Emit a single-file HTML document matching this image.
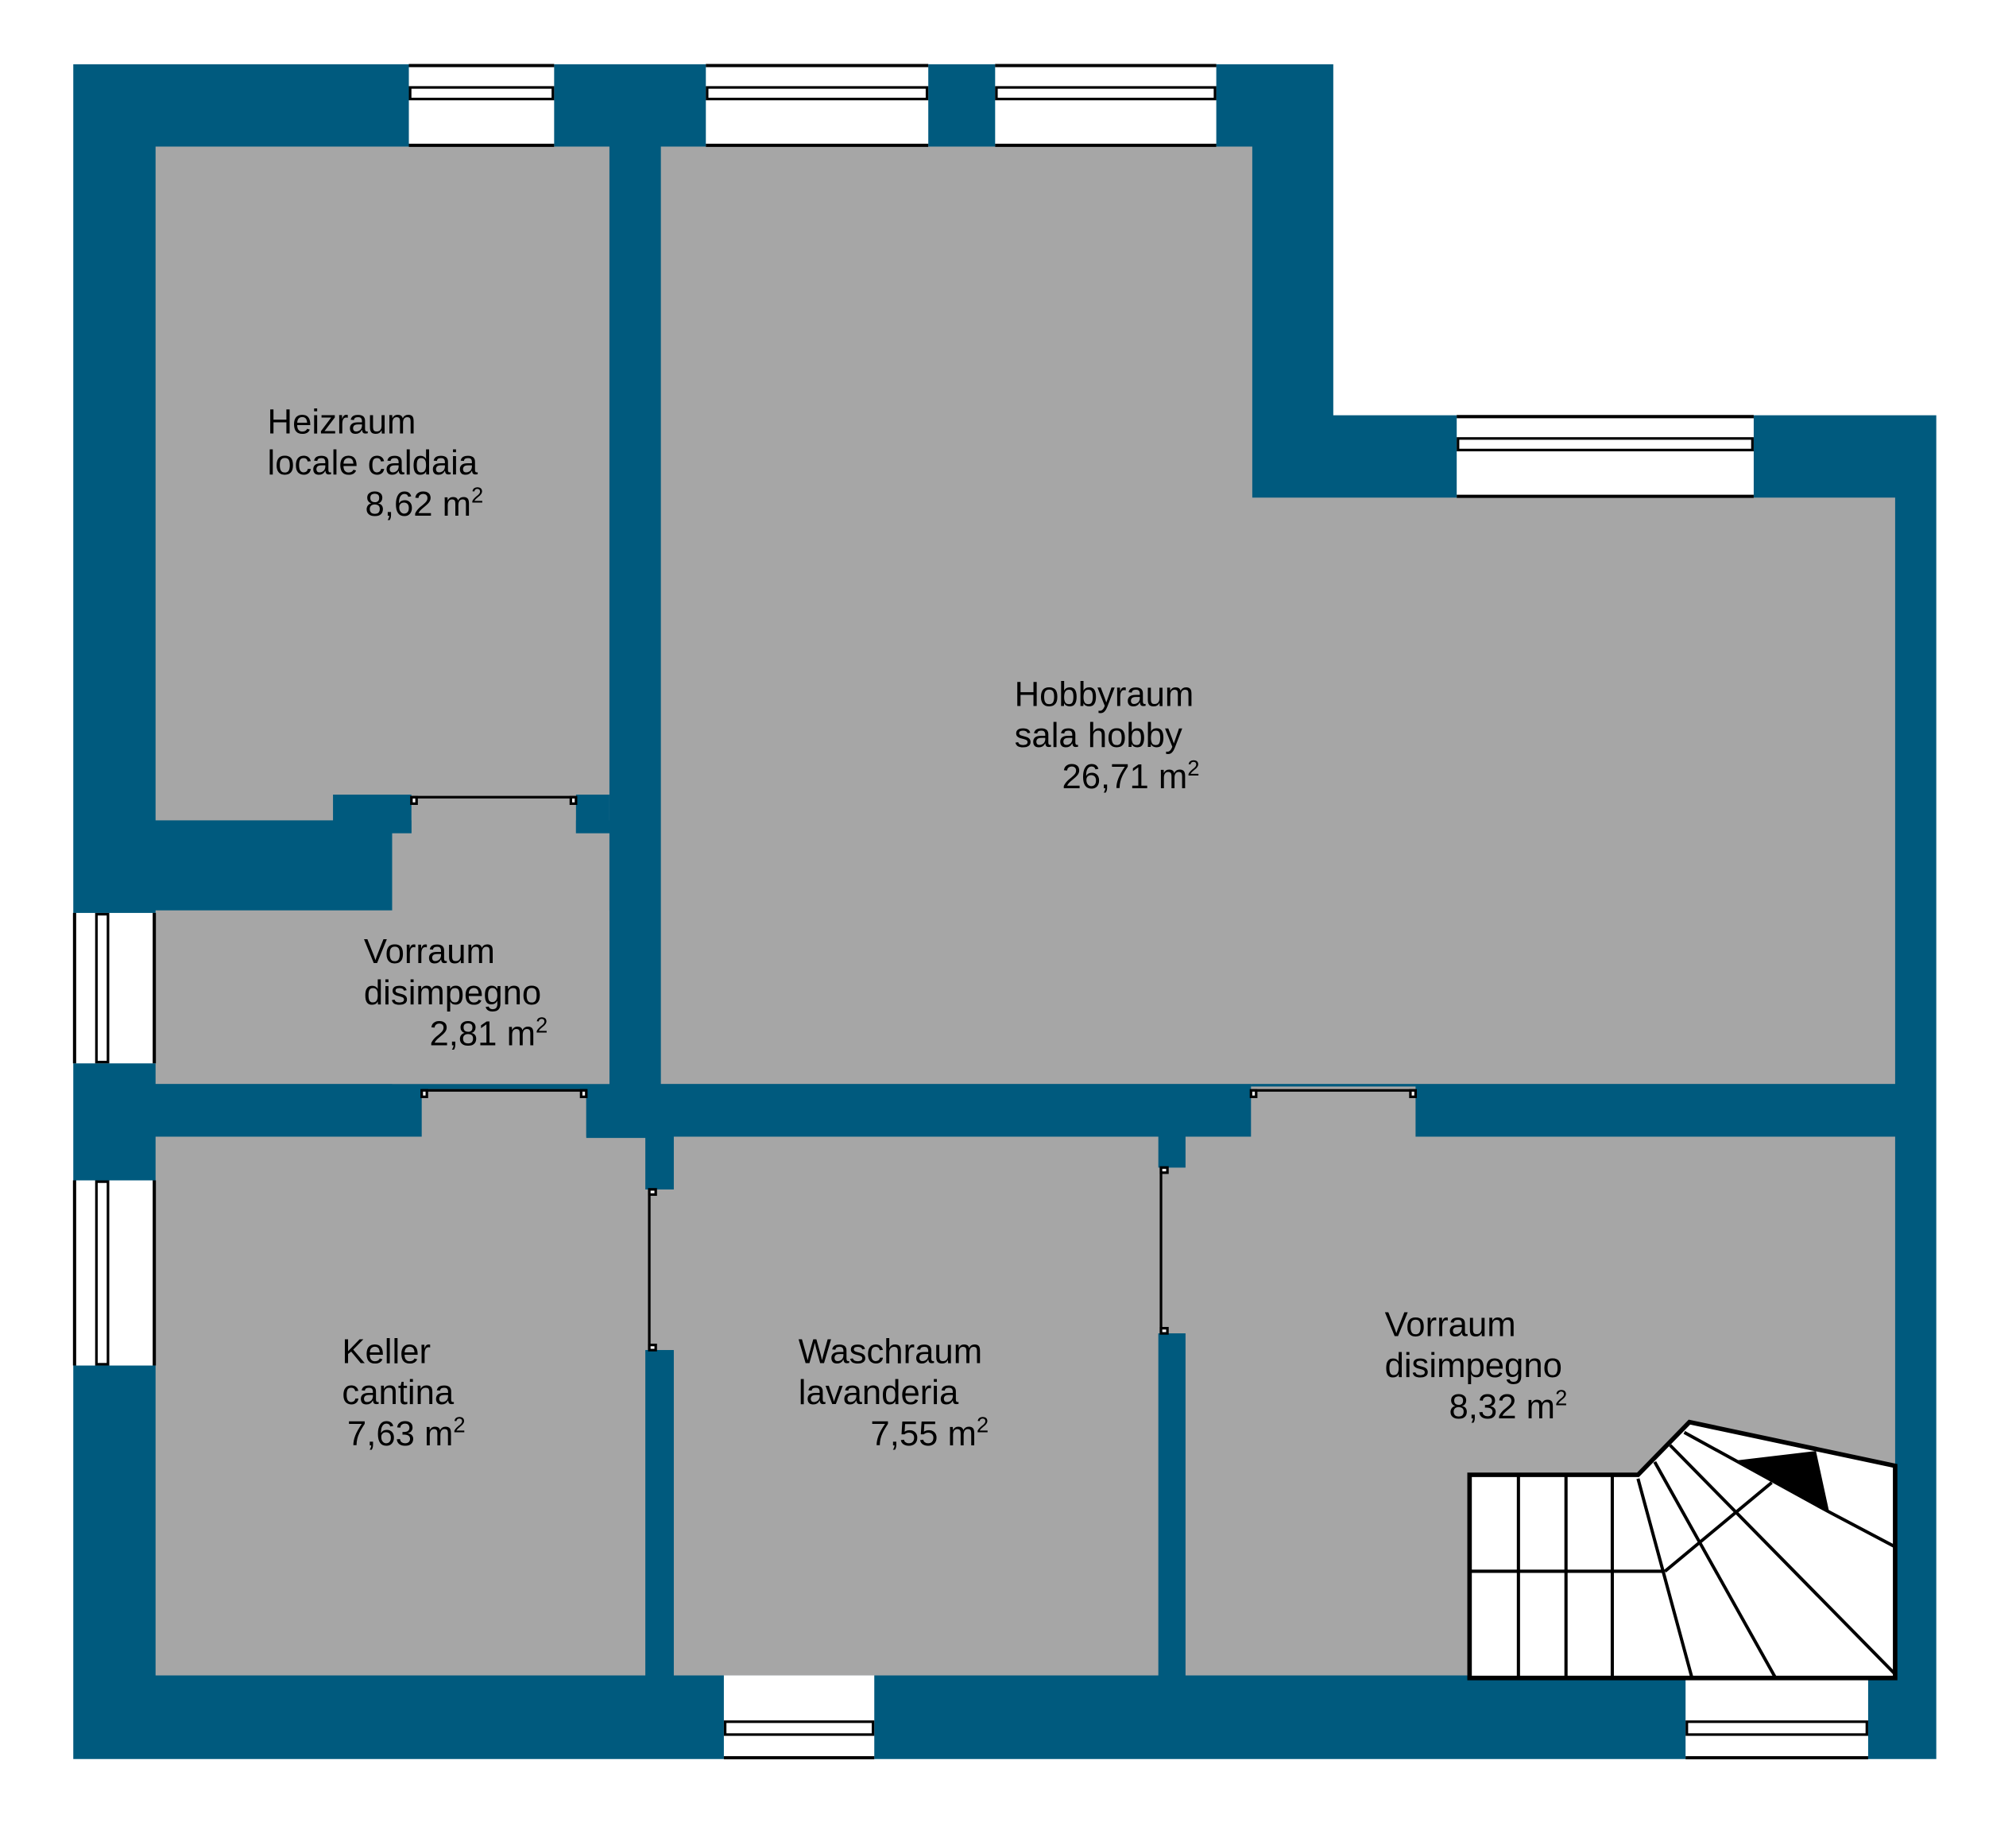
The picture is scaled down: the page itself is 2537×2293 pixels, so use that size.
<!DOCTYPE html>
<html><head><meta charset="utf-8"><style>
html,body{margin:0;padding:0;background:#fff}
svg{display:block}
text{font-family:"Liberation Sans",sans-serif;font-size:27px;fill:#000}
</style></head><body>
<svg width="2537" height="2293" viewBox="0 0 1568 1417" preserveAspectRatio="none" xmlns="http://www.w3.org/2000/svg">
<rect width="1568" height="1417" fill="#fff"/>
<polygon points="57,50 1037,50 1037,323 1506,323 1506,1368 57,1368" fill="#005a7e"/>
<g fill="#a6a6a6">
<rect x="121" y="114" width="353" height="524"/>
<rect x="305" y="648" width="169" height="195"/>
<rect x="121" y="708" width="353" height="135"/>
<rect x="320" y="620" width="128" height="30"/>
<rect x="514" y="114" width="460" height="729"/>
<rect x="973" y="387" width="501" height="456"/>
<rect x="121" y="884" width="381" height="419"/>
<rect x="328" y="847" width="128" height="40"/>
<rect x="524" y="884" width="377" height="419"/>
<rect x="500" y="925" width="26" height="125"/>
<rect x="922" y="884" width="552" height="419"/>
<rect x="973" y="845" width="128" height="42"/>
<rect x="899" y="908" width="26" height="129"/>
</g>
<g fill="#005a7e">
<rect x="259" y="618" width="61" height="30"/>
<rect x="448" y="618" width="26" height="30"/>
<rect x="456" y="845" width="58" height="40"/>
<rect x="502" y="884" width="22" height="41"/>
<rect x="502" y="1050" width="22" height="253"/>
<rect x="901" y="884" width="21" height="24"/>
<rect x="901" y="1037" width="21" height="266"/>
</g>
<g stroke="#000" stroke-width="2" fill="#fff">
<line x1="320" y1="620" x2="448" y2="620"/>
<rect x="320" y="620" width="4" height="5"/><rect x="444" y="620" width="4" height="5"/>
<line x1="328" y1="848" x2="456" y2="848"/>
<rect x="328" y="848" width="4" height="5"/><rect x="452" y="848" width="4" height="5"/>
<line x1="973" y1="848" x2="1101" y2="848"/>
<rect x="973" y="848" width="4" height="5"/><rect x="1097" y="848" width="4" height="5"/>
<line x1="505" y1="925" x2="505" y2="1050"/>
<rect x="505" y="925" width="5" height="4"/><rect x="505" y="1046" width="5" height="4"/>
<line x1="903" y1="908" x2="903" y2="1037"/>
<rect x="903" y="908" width="5" height="4"/><rect x="903" y="1033" width="5" height="4"/>
</g>
<g stroke="#000" stroke-width="2.5" fill="#fff">
<g><rect x="318" y="50" width="113" height="64" stroke="none"/><line x1="318" y1="51" x2="431" y2="51"/><line x1="318" y1="113" x2="431" y2="113"/><rect x="319" y="68" width="111" height="9" stroke-width="2"/></g>
<g><rect x="549" y="50" width="173" height="64" stroke="none"/><line x1="549" y1="51" x2="722" y2="51"/><line x1="549" y1="113" x2="722" y2="113"/><rect x="550" y="68" width="171" height="9" stroke-width="2"/></g>
<g><rect x="774" y="50" width="172" height="64" stroke="none"/><line x1="774" y1="51" x2="946" y2="51"/><line x1="774" y1="113" x2="946" y2="113"/><rect x="775" y="68" width="170" height="9" stroke-width="2"/></g>
<g><rect x="1133" y="323" width="231" height="64" stroke="none"/><line x1="1133" y1="324" x2="1364" y2="324"/><line x1="1133" y1="386" x2="1364" y2="386"/><rect x="1134" y="341" width="229" height="9" stroke-width="2"/></g>
<g><rect x="563" y="1303" width="117" height="65" stroke="none"/><line x1="563" y1="1367" x2="680" y2="1367"/><rect x="564" y="1339" width="115" height="10" stroke-width="2"/></g>
<g><rect x="1311" y="1303" width="142" height="65" stroke="none"/><line x1="1311" y1="1367" x2="1453" y2="1367"/><rect x="1312" y="1339" width="140" height="10" stroke-width="2"/></g>
<g><rect x="57" y="710" width="64" height="117" stroke="none"/><line x1="58" y1="710" x2="58" y2="827"/><line x1="120" y1="710" x2="120" y2="827"/><rect x="75" y="711" width="9" height="115" stroke-width="2"/></g>
<g><rect x="57" y="918" width="64" height="144" stroke="none"/><line x1="58" y1="918" x2="58" y2="1062"/><line x1="120" y1="918" x2="120" y2="1062"/><rect x="75" y="919" width="9" height="142" stroke-width="2"/></g>
</g>
<g stroke="#000" stroke-width="2.5" fill="none">
<polygon points="1143,1147 1274,1147 1314,1106 1474,1140 1474,1305 1143,1305" fill="#fff" stroke-width="3.5"/>
<line x1="1181" y1="1147" x2="1181" y2="1305"/>
<line x1="1218" y1="1147" x2="1218" y2="1305"/>
<line x1="1254" y1="1147" x2="1254" y2="1305"/>
<line x1="1143" y1="1222" x2="1295" y2="1222"/>
<line x1="1274" y1="1150" x2="1316" y2="1305"/>
<line x1="1287" y1="1137" x2="1381" y2="1305"/>
<line x1="1299" y1="1124" x2="1474" y2="1302"/>
<polyline points="1310,1114 1421,1175 1474,1203"/>
<line x1="1295" y1="1222" x2="1378" y2="1153"/>
<polygon points="1353,1136 1412,1129 1422,1175" fill="#000" stroke-width="1"/>
</g>
<text x="208" y="337">Heizraum</text>
<text x="208" y="369">locale caldaia</text>
<text x="376" y="401" text-anchor="end">8,62 m<tspan font-size="17" dy="-10">2</tspan></text>
<text x="789" y="549">Hobbyraum</text>
<text x="789" y="581">sala hobby</text>
<text x="933" y="613" text-anchor="end">26,71 m<tspan font-size="17" dy="-10">2</tspan></text>
<text x="283" y="749">Vorraum</text>
<text x="283" y="781">disimpegno</text>
<text x="426" y="813" text-anchor="end">2,81 m<tspan font-size="17" dy="-10">2</tspan></text>
<text x="266" y="1060">Keller</text>
<text x="266" y="1092">cantina</text>
<text x="362" y="1124" text-anchor="end">7,63 m<tspan font-size="17" dy="-10">2</tspan></text>
<text x="621" y="1060">Waschraum</text>
<text x="621" y="1092">lavanderia</text>
<text x="769" y="1124" text-anchor="end">7,55 m<tspan font-size="17" dy="-10">2</tspan></text>
<text x="1077" y="1039">Vorraum</text>
<text x="1077" y="1071">disimpegno</text>
<text x="1219" y="1103" text-anchor="end">8,32 m<tspan font-size="17" dy="-10">2</tspan></text>
</svg>
</body></html>
